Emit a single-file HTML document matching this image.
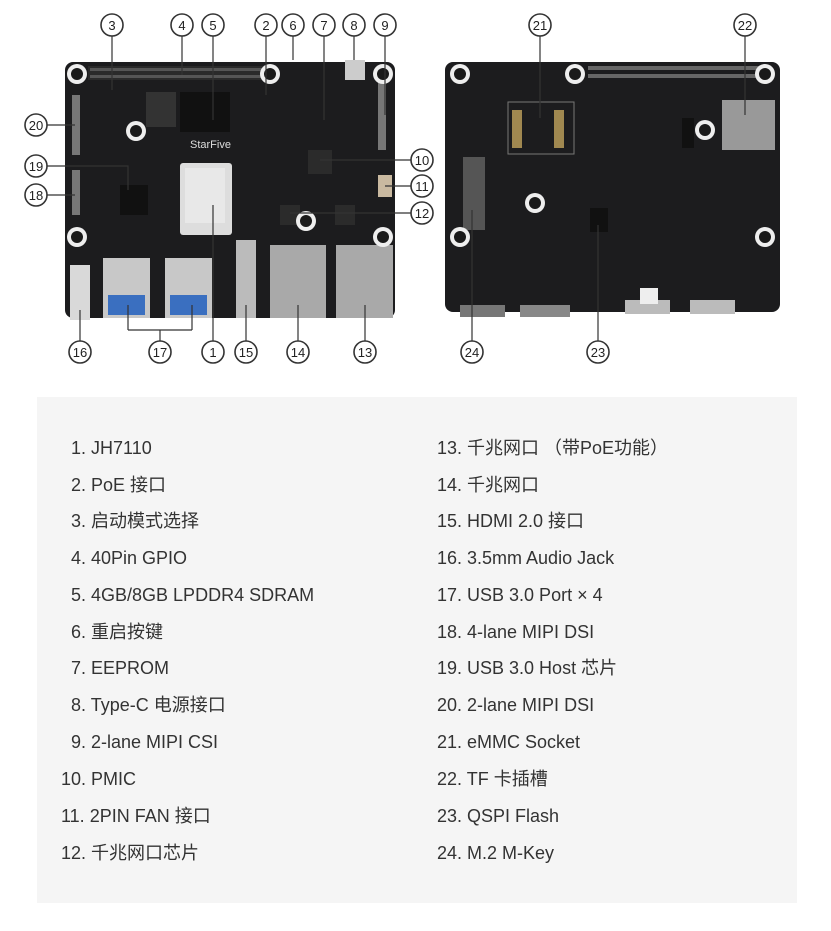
<!DOCTYPE html>
<html><head><meta charset="utf-8"><style>
body{margin:0;width:831px;height:931px;background:#fff;position:relative;overflow:hidden;font-family:"Liberation Sans","Noto Sans CJK SC",sans-serif}
#panel{position:absolute;left:37px;top:397px;width:760px;height:506px;background:#f5f5f5}
.t{position:absolute;font-size:18px;color:#333;white-space:nowrap;line-height:20px}
svg text{font-family:"Liberation Sans",sans-serif}
</style></head><body>
<svg width="831" height="390" style="position:absolute;left:0;top:0">
<defs>
<g id="hole"><circle r="10" fill="#eee"/><circle r="6" fill="#1a1a1a"/></g>
</defs>
<rect x="65" y="62" width="330" height="256" rx="8" fill="#1c1c1e"/>
<rect x="88" y="66" width="180" height="14" fill="#2a2a2a"/>
<g fill="#555"><rect x="90" y="68" width="175" height="3"/><rect x="90" y="75" width="175" height="3"/></g>
<rect x="72" y="95" width="8" height="60" fill="#777"/>
<rect x="72" y="170" width="8" height="45" fill="#777"/>
<rect x="378" y="80" width="8" height="70" fill="#777"/>
<rect x="180" y="92" width="50" height="40" fill="#111"/>
<rect x="146" y="92" width="30" height="35" fill="#333"/>
<rect x="180" y="163" width="52" height="72" rx="3" fill="#ddd"/>
<rect x="185" y="168" width="40" height="55" fill="#e8e8e8"/>
<rect x="120" y="185" width="28" height="30" fill="#111"/>
<rect x="308" y="150" width="24" height="24" fill="#2b2b2b"/>
<rect x="280" y="205" width="20" height="20" fill="#2b2b2b"/><rect x="335" y="205" width="20" height="20" fill="#2b2b2b"/>
<rect x="378" y="175" width="14" height="22" fill="#c9b9a0"/>
<rect x="345" y="60" width="20" height="20" fill="#ccc"/>
<rect x="103" y="258" width="47" height="60" fill="#c8c8c8"/>
<rect x="165" y="258" width="47" height="60" fill="#c8c8c8"/>
<rect x="108" y="295" width="37" height="20" fill="#3a6fc0"/>
<rect x="170" y="295" width="37" height="20" fill="#3a6fc0"/>
<rect x="236" y="240" width="20" height="78" fill="#bbb"/>
<rect x="270" y="245" width="56" height="73" fill="#a9a9a9"/>
<rect x="336" y="245" width="57" height="73" fill="#a9a9a9"/>
<rect x="70" y="265" width="20" height="55" fill="#d9d9d9"/>
<use href="#hole" x="77" y="74"/><use href="#hole" x="270" y="74"/><use href="#hole" x="383" y="74"/>
<use href="#hole" x="77" y="237"/><use href="#hole" x="306" y="221"/><use href="#hole" x="383" y="237"/><use href="#hole" x="136" y="131"/>
<text x="190" y="148" fill="#ddd" font-size="11">StarFive</text>
<rect x="445" y="62" width="335" height="250" rx="8" fill="#1c1c1e"/>
<g fill="#666"><rect x="588" y="66" width="180" height="4"/><rect x="588" y="74" width="180" height="4"/></g>
<rect x="508" y="102" width="66" height="52" fill="none" stroke="#777"/>
<rect x="512" y="110" width="10" height="38" fill="#a08850"/><rect x="554" y="110" width="10" height="38" fill="#a08850"/>
<rect x="463" y="157" width="22" height="73" fill="#555"/>
<rect x="722" y="100" width="53" height="50" fill="#999"/>
<rect x="682" y="118" width="12" height="30" fill="#111"/>
<rect x="590" y="208" width="18" height="24" fill="#111"/>
<rect x="460" y="305" width="45" height="12" fill="#777"/><rect x="520" y="305" width="50" height="12" fill="#888"/>
<rect x="625" y="300" width="45" height="14" fill="#bbb"/><rect x="690" y="300" width="45" height="14" fill="#bbb"/>
<rect x="640" y="288" width="18" height="16" fill="#eee"/>
<use href="#hole" x="460" y="74"/><use href="#hole" x="575" y="74"/><use href="#hole" x="765" y="74"/>
<use href="#hole" x="460" y="237"/><use href="#hole" x="765" y="237"/><use href="#hole" x="535" y="203"/><use href="#hole" x="705" y="130"/>
<g stroke="#333" stroke-width="1.2" fill="none">
<path d="M112 35V90M182 35V75M213 35V120M266 35V95M293 35V60M324 35V120M354 35V60M385 35V115"/>
<path d="M46 125H75M46 166H128V190M46 195H75"/>
<path d="M412 160H320M412 186H385M412 213H290"/>
<path d="M80 342V310M160 342V330M128 330H192M128 330V305M192 330V305M213 342V205M246 342V305M298 342V305M365 342V305"/>
<path d="M540 35V118M745 35V115M472 342V210M598 342V225"/>
</g>
<g fill="#fff" stroke="#333" stroke-width="1.6">
<circle cx="112" cy="25" r="11"/><circle cx="182" cy="25" r="11"/><circle cx="213" cy="25" r="11"/><circle cx="266" cy="25" r="11"/><circle cx="293" cy="25" r="11"/><circle cx="324" cy="25" r="11"/><circle cx="354" cy="25" r="11"/><circle cx="385" cy="25" r="11"/>
<circle cx="36" cy="125" r="11"/><circle cx="36" cy="166" r="11"/><circle cx="36" cy="195" r="11"/>
<circle cx="422" cy="160" r="11"/><circle cx="422" cy="186" r="11"/><circle cx="422" cy="213" r="11"/>
<circle cx="80" cy="352" r="11"/><circle cx="160" cy="352" r="11"/><circle cx="213" cy="352" r="11"/><circle cx="246" cy="352" r="11"/><circle cx="298" cy="352" r="11"/><circle cx="365" cy="352" r="11"/>
<circle cx="540" cy="25" r="11"/><circle cx="745" cy="25" r="11"/><circle cx="472" cy="352" r="11"/><circle cx="598" cy="352" r="11"/>
</g>
<g font-size="13" fill="#222" text-anchor="middle">
<text x="112" y="30">3</text><text x="182" y="30">4</text><text x="213" y="30">5</text><text x="266" y="30">2</text><text x="293" y="30">6</text><text x="324" y="30">7</text><text x="354" y="30">8</text><text x="385" y="30">9</text>
<text x="36" y="130">20</text><text x="36" y="171">19</text><text x="36" y="200">18</text>
<text x="422" y="165">10</text><text x="422" y="191">11</text><text x="422" y="218">12</text>
<text x="80" y="357">16</text><text x="160" y="357">17</text><text x="213" y="357">1</text><text x="246" y="357">15</text><text x="298" y="357">14</text><text x="365" y="357">13</text>
<text x="540" y="30">21</text><text x="745" y="30">22</text><text x="472" y="357">24</text><text x="598" y="357">23</text>
</g>
</svg>
<div id="panel"></div>
<div class="t" style="left:71px;top:438px">1. JH7110</div>
<div class="t" style="left:71px;top:475px">2. PoE 接口</div>
<div class="t" style="left:71px;top:511px">3. 启动模式选择</div>
<div class="t" style="left:71px;top:548px">4. 40Pin GPIO</div>
<div class="t" style="left:71px;top:585px">5. 4GB/8GB LPDDR4 SDRAM</div>
<div class="t" style="left:71px;top:622px">6. 重启按键</div>
<div class="t" style="left:71px;top:658px">7. EEPROM</div>
<div class="t" style="left:71px;top:695px">8. Type-C 电源接口</div>
<div class="t" style="left:71px;top:732px">9. 2-lane MIPI CSI</div>
<div class="t" style="left:61px;top:769px">10. PMIC</div>
<div class="t" style="left:61px;top:806px">11. 2PIN FAN 接口</div>
<div class="t" style="left:61px;top:843px">12. 千兆网口芯片</div>
<div class="t" style="left:437px;top:438px">13. 千兆网口 （带PoE功能）</div>
<div class="t" style="left:437px;top:475px">14. 千兆网口</div>
<div class="t" style="left:437px;top:511px">15. HDMI 2.0 接口</div>
<div class="t" style="left:437px;top:548px">16. 3.5mm Audio Jack</div>
<div class="t" style="left:437px;top:585px">17. USB 3.0 Port × 4</div>
<div class="t" style="left:437px;top:622px">18. 4-lane MIPI DSI</div>
<div class="t" style="left:437px;top:658px">19. USB 3.0 Host 芯片</div>
<div class="t" style="left:437px;top:695px">20. 2-lane MIPI DSI</div>
<div class="t" style="left:437px;top:732px">21. eMMC Socket</div>
<div class="t" style="left:437px;top:769px">22. TF 卡插槽</div>
<div class="t" style="left:437px;top:806px">23. QSPI Flash</div>
<div class="t" style="left:437px;top:843px">24. M.2 M-Key</div>
</body></html>
